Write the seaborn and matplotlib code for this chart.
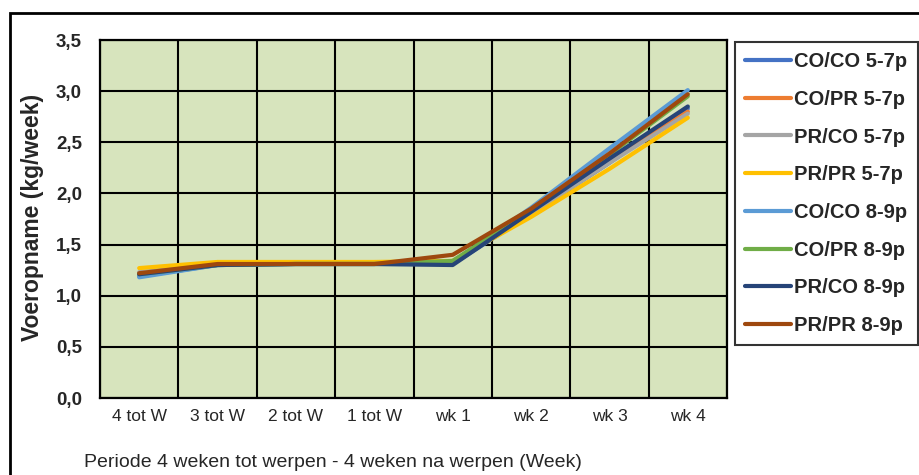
import numpy as np
import pandas as pd
import matplotlib
matplotlib.use("Agg")
import matplotlib.pyplot as plt
import seaborn as sns
from matplotlib.patches import Rectangle
from matplotlib.ticker import FuncFormatter, MultipleLocator, FixedLocator

# --- data ---
weeks = ["4 tot W", "3 tot W", "2 tot W", "1 tot W", "wk 1", "wk 2", "wk 3", "wk 4"]

co_co_57 = [1.19, 1.30, 1.31, 1.31, 1.31, 1.80, 2.30, 2.83]
co_pr_57 = [1.22, 1.31, 1.32, 1.32, 1.33, 1.80, 2.33, 2.80]
pr_co_57 = [1.23, 1.31, 1.32, 1.32, 1.34, 1.80, 2.30, 2.78]
pr_pr_57 = [1.27, 1.33, 1.33, 1.33, 1.34, 1.77, 2.24, 2.74]
co_co_89 = [1.18, 1.30, 1.31, 1.31, 1.33, 1.86, 2.44, 3.01]
co_pr_89 = [1.21, 1.30, 1.31, 1.31, 1.34, 1.84, 2.38, 2.95]
pr_co_89 = [1.21, 1.30, 1.31, 1.31, 1.30, 1.82, 2.34, 2.85]
pr_pr_89 = [1.22, 1.31, 1.31, 1.31, 1.40, 1.85, 2.39, 2.97]

series_names = ["CO/CO 5-7p", "CO/PR 5-7p", "PR/CO 5-7p", "PR/PR 5-7p",
                "CO/CO 8-9p", "CO/PR 8-9p", "PR/CO 8-9p", "PR/PR 8-9p"]
series_values = [co_co_57, co_pr_57, pr_co_57, pr_pr_57,
                 co_co_89, co_pr_89, pr_co_89, pr_pr_89]
colors = ["#4472C4", "#ED7D31", "#A5A5A5", "#FFC000",
          "#5B9BD5", "#70AD47", "#264478", "#9E480E"]

# long-form table for seaborn
rows = []
for name, vals in zip(series_names, series_values):
    for i, v in enumerate(vals):
        rows.append({"pos": i, "week": weeks[i], "groep": name, "voer": v})
df = pd.DataFrame(rows)

sns.set_style("white")
plt.rcParams["font.family"] = ["Liberation Sans", "DejaVu Sans"]

fig = plt.figure(figsize=(9.2, 4.75), dpi=100)
ax = fig.add_axes([100 / 920, 1 - 398 / 475, 627 / 920, 358 / 475])
ax.set_facecolor("#D7E4BD")

sns.lineplot(data=df, x="pos", y="voer", hue="groep", hue_order=series_names,
             palette=dict(zip(series_names, colors)), linewidth=3,
             sort=False, estimator=None, ax=ax, zorder=3)

# axes limits and grid (vertical lines sit between categories, like Excel)
ax.set_xlim(-0.5, len(weeks) - 0.5)
ax.set_ylim(0, 3.5)
ax.xaxis.set_major_locator(FixedLocator(range(len(weeks))))
ax.xaxis.set_minor_locator(MultipleLocator(1, offset=0.5))
ax.set_xticklabels(weeks, fontsize=12.5)
ax.yaxis.set_major_locator(MultipleLocator(0.5))
ax.yaxis.set_major_formatter(FuncFormatter(lambda v, p: f"{v:.1f}".replace(".", ",")))
for lab in ax.get_yticklabels():
    lab.set_fontweight("bold")
ax.tick_params(axis="y", labelsize=13.5, length=0, pad=13)
ax.tick_params(axis="x", which="both", length=0, pad=8)
ax.grid(True, axis="y", which="major", color="black", linewidth=1.5, zorder=1)
ax.grid(True, axis="x", which="minor", color="black", linewidth=1.5, zorder=1)
ax.grid(False, axis="x", which="major")
ax.set_axisbelow(True)
for sp in ax.spines.values():
    sp.set_color("black")
    sp.set_linewidth(1.6)

ax.set_xlabel("Periode 4 weken tot werpen - 4 weken na werpen (Week)", fontsize=14)
ax.xaxis.set_label_coords(0.372, -0.179)
ax.xaxis.label.set_va("center")
ax.set_ylabel("Voeropname (kg/week)", fontsize=16.5, fontweight="bold")
ax.yaxis.set_label_coords(-0.108, 0.503)
ax.yaxis.label.set_va("center")

# legend box to the right of the plot
handles, labels = ax.get_legend_handles_labels()
leg = ax.legend(handles, labels, loc="upper left",
                bbox_to_anchor=(735 / 920, 1 - 42 / 475),
                bbox_transform=fig.transFigure, frameon=True, fancybox=False,
                prop={"weight": "bold", "size": 14.5}, handlelength=2.3,
                handletextpad=0.15, labelspacing=0.93, borderpad=0.5,
                borderaxespad=0)
leg.get_frame().set_edgecolor("black")
leg.get_frame().set_linewidth(1.5)
for ln in leg.get_lines():
    ln.set_linewidth(3)

# outer chart border (top and left visible)
top = 1 - 13 / 475
fig.patches.append(Rectangle((10 / 920, -0.2), 1.2, top + 0.2,
                             transform=fig.transFigure, fill=False,
                             edgecolor="black", linewidth=2, zorder=0))

plt.savefig("out.png", dpi=100)
plt.close()
